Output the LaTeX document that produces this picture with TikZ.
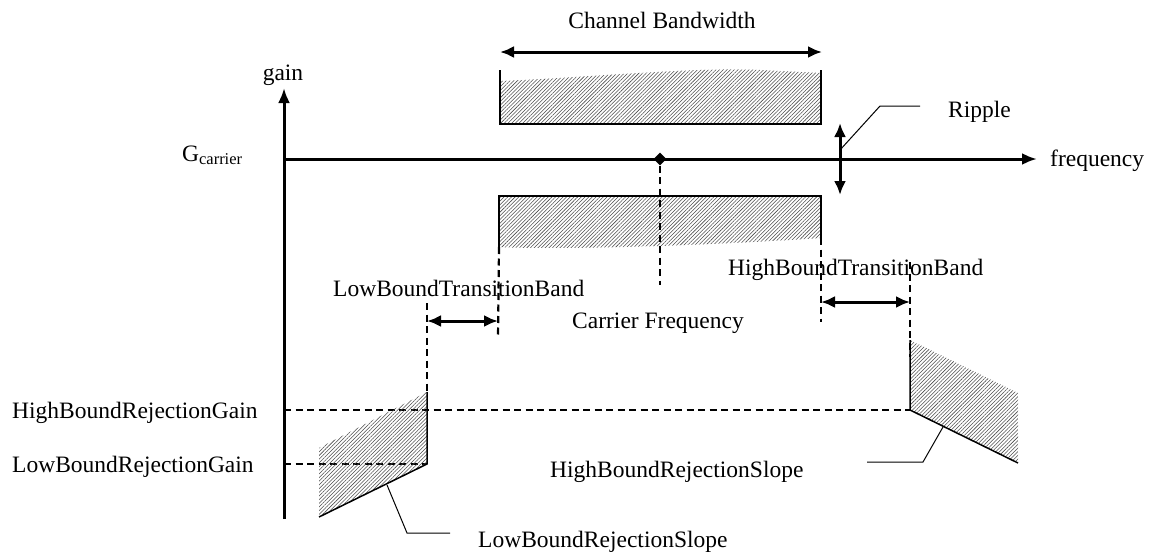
\documentclass[tikz,border=0pt]{standalone}
\usepackage{fontspec}
\setmainfont{Liberation Serif}
\usetikzlibrary{arrows.meta,patterns.meta,shapes.geometric}
\tikzset{
  lbl/.style={inner sep=0pt,anchor=west,font=\fontsize{23.5}{28}\selectfont},
  axis/.style={line width=3pt,-{Latex[length=15pt,width=12pt]}},
  span/.style={line width=3pt,{Latex[length=14pt,width=12pt]}-{Latex[length=14pt,width=12pt]}},
  guide/.style={line width=2.2pt,dash pattern=on 7pt off 4.5pt},
  edge/.style={line width=1.5pt},
  leader/.style={line width=1pt},
  hatch/.style={pattern={Lines[angle=45,distance=2.6pt,line width=0.55pt]},pattern color=black!70}
}
\begin{document}
\begin{tikzpicture}[x=1pt,y=-1pt]
\useasboundingbox (0,0) rectangle (1150,554);
% the two axes
\coordinate (o) at (284,159);
\coordinate (gbot) at (284,519);
\coordinate (gtop) at (284,88);
\coordinate (fend) at (1037,159);
\draw[axis] (gbot) -- (gtop);
\draw[axis] (o) -- (fend);
\node[lbl,anchor=center] (gain) at (283,75) {gain};
\node[lbl] (freq) at (1050,161) {frequency};
\node[lbl,anchor=base west] (gc) at (182,161) {G\textsubscript{carrier}};
% pass band, upper and lower limits
\coordinate (ua) at (500,70);  \coordinate (ub) at (500,124);
\coordinate (uc) at (821,124); \coordinate (ud) at (821,70);
\fill[hatch] (ub) -- (500,81) .. controls (600,77) and (690,67) .. (760,70)
  .. controls (790,71) .. (821,73) -- (uc) -- cycle;
\draw[edge] (ua) -- (ub) -- (uc) -- (ud);
\coordinate (la) at (499,247); \coordinate (lb) at (499,196);
\coordinate (lc) at (821,196); \coordinate (ld) at (821,238);
\fill[hatch] (lb) -- (lc) -- (ld) .. controls (700,246) and (560,250) .. (la) -- cycle;
\draw[edge] (la) -- (lb) -- (lc) -- (ld);
\coordinate (bwl) at (500,52); \coordinate (bwr) at (822,52);
\draw[span] (bwl) -- (bwr);
\node[lbl,anchor=center] (bw) at (662,20) {Channel Bandwidth};
% ripple
\coordinate (rt) at (840,123); \coordinate (rb) at (840,195);
\draw[span] (rt) -- (rb);
\coordinate (r1) at (840,150); \coordinate (r2) at (880,106); \coordinate (r3) at (920,106);
\draw[leader] (r1) -- (r2) -- (r3);
\node[lbl] (ripple) at (948,112) {Ripple};
% carrier frequency
\node[diamond,fill=black,inner sep=0pt,minimum size=13pt] (fc) at (660,159) {};
\coordinate (fcb) at (660,285);
\draw[guide] (fc) -- (fcb);
\node[lbl] (cf) at (572,323) {Carrier Frequency};
% transition bands
\coordinate (t1) at (498,338); \coordinate (t2) at (427,303); \coordinate (t3) at (427,392);
\draw[guide] (la) -- (t1);
\draw[guide] (t2) -- (t3);
\draw[span] (t3 |- 0,321) -- (t1 |- 0,321);
\node[lbl] (lbt) at (333,288) {LowBoundTransitionBand};
\coordinate (t4) at (821,322); \coordinate (t5) at (910,262); \coordinate (t6) at (910,357);
\draw[guide] (ld) -- (t4);
\draw[guide] (t5) -- (t6);
\draw[span] (t4 |- 0,302) -- (t5 |- 0,302);
\node[lbl] (hbt) at (728,270) {HighBoundTransitionBand};
% rejection gains
\coordinate (hg) at (910,410); \coordinate (lg) at (427,464);
\draw[guide] (gbot |- hg) -- (hg);
\draw[guide] (gbot |- lg) -- (lg);
\node[lbl] (hrg) at (12,413) {HighBoundRejectionGain};
\node[lbl] (lrg) at (12,467) {LowBoundRejectionGain};
% rejection slopes
\coordinate (s1) at (319,448); \coordinate (s2) at (319,517);
\fill[hatch] (s1) -- (t3) -- (lg) -- (s2) -- cycle;
\draw[edge] (t3) -- (lg) -- (s2);
\coordinate (s3) at (910,340); \coordinate (s4) at (1018,393); \coordinate (s5) at (1018,463);
\fill[hatch] (s3) -- (s4) -- (s5) -- (hg) -- cycle;
\draw[edge] (s3) -- (hg) -- (s5);
\coordinate (p1) at (387,485); \coordinate (p2) at (407,533); \coordinate (p3) at (450,533);
\draw[leader] (p1) -- (p2) -- (p3);
\node[lbl] (lrs) at (478,542) {LowBoundRejectionSlope};
\coordinate (q1) at (943,427); \coordinate (q2) at (923,462); \coordinate (q3) at (867,462);
\draw[leader] (q1) -- (q2) -- (q3);
\node[lbl] (hrs) at (550,472) {HighBoundRejectionSlope};
\end{tikzpicture}
\end{document}
